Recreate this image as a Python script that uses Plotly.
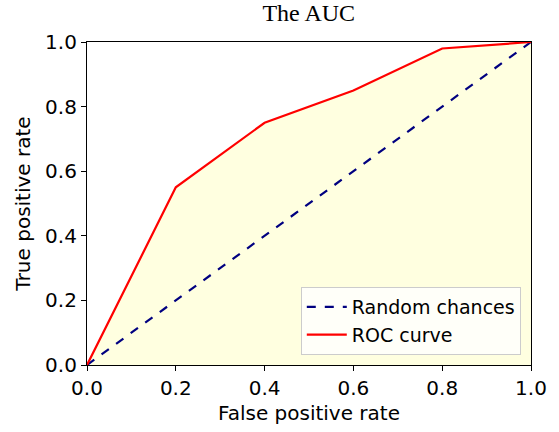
import plotly.graph_objects as go

fpr = [0.0, 0.2, 0.4, 0.6, 0.8, 1.0]
tpr = [0.0, 0.55, 0.75, 0.85, 0.98, 1.0]
rand_x = [0.0, 1.0]
rand_y = [0.0, 1.0]
ticks = [0.0, 0.2, 0.4, 0.6, 0.8, 1.0]
tick_text = ["0.0", "0.2", "0.4", "0.6", "0.8", "1.0"]

fig = go.Figure()
fig.add_trace(go.Scatter(x=fpr, y=tpr, fill="tozeroy", fillcolor="#FFFFE0",
                         mode="none", showlegend=False, hoverinfo="skip"))
fig.add_trace(go.Scatter(x=rand_x, y=rand_y, mode="lines", name="Random chances",
                         line=dict(color="navy", width=2.2, dash="dash")))
fig.add_trace(go.Scatter(x=fpr, y=tpr, mode="lines", name="ROC curve",
                         line=dict(color="red", width=2.2)))

axis_common = dict(range=[0, 1], tickvals=ticks, ticktext=tick_text, ticks="outside",
                   ticklen=5, tickwidth=1, tickcolor="black", showline=True,
                   linecolor="black", linewidth=1.2, mirror=True, showgrid=False,
                   zeroline=False, tickfont=dict(family="DejaVu Sans", size=20, color="black"))

fig.update_layout(
    width=559, height=432,
    margin=dict(l=87, r=28, t=42, b=67),
    paper_bgcolor="white", plot_bgcolor="white",
    title=dict(text="The AUC", x=0.5524, xanchor="center", y=0.971, yanchor="middle",
               font=dict(family="Liberation Serif", size=24, color="black")),
    xaxis=dict(**axis_common, title=dict(text="False positive rate", standoff=6,
               font=dict(family="DejaVu Sans", size=20, color="black"))),
    yaxis=dict(**axis_common, title=dict(text="True positive rate", standoff=9,
               font=dict(family="DejaVu Sans", size=20, color="black"))),
    legend=dict(x=0.977, y=0.031, xanchor="right", yanchor="bottom",
                bgcolor="rgba(255,255,255,0.8)", bordercolor="#cccccc", borderwidth=1,
                font=dict(family="DejaVu Sans", size=19, color="black"),
                tracegroupgap=0, itemwidth=40),
)
fig.write_html("out.html")
